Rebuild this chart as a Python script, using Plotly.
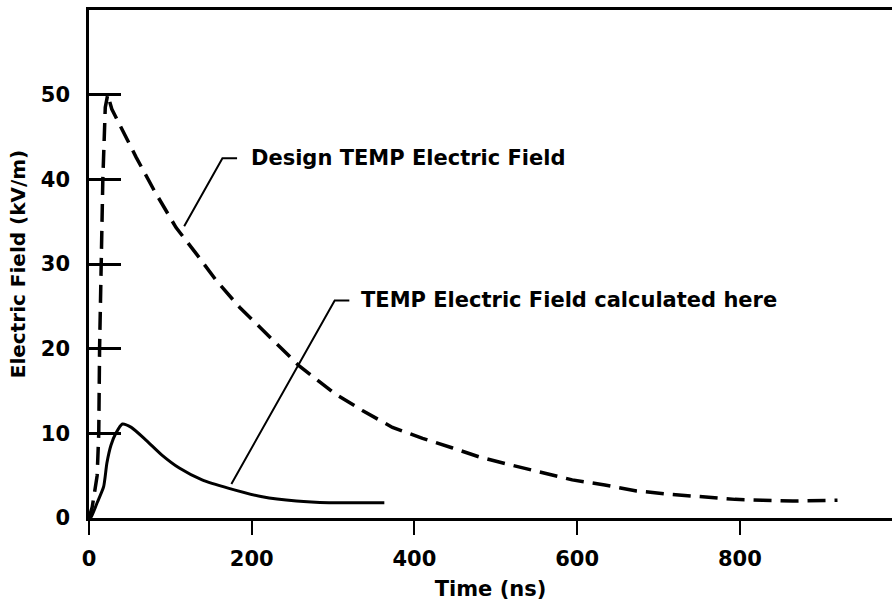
import numpy as np
import plotly.graph_objects as go

# ---- data ----
# Design TEMP electric field (dashed curve)
design_t = [0, 4, 10, 12, 13, 15, 17, 20, 23, 28, 43, 58, 80, 107, 132, 156, 185,
            234, 258, 302, 336, 373, 410, 446, 480, 519, 558, 594, 634, 673, 714,
            753, 794, 828, 865, 920]
design_e = [0, 1.3, 5, 10, 20, 30, 40, 48.5, 50, 48.3, 45.4, 42.6, 38.7, 34.3, 31.2,
            28.1, 24.9, 20.2, 18.0, 14.7, 12.7, 10.7, 9.4, 8.3, 7.2, 6.25, 5.3, 4.5,
            3.9, 3.2, 2.8, 2.5, 2.2, 2.1, 2.0, 2.1]

# TEMP electric field calculated here (solid curve)
calc_t = [0, 2.5, 10, 18, 22, 27, 33, 41, 52, 70, 90, 111, 139, 172, 213, 255,
          295, 336, 363]
calc_e = [0, 0.1, 1.8, 3.7, 6.5, 8.6, 10.0, 11.1, 10.7, 9.2, 7.4, 5.9, 4.5, 3.5,
          2.5, 2.0, 1.8, 1.8, 1.8]

x_ticks = [0, 200, 400, 600, 800]
y_ticks = [0, 10, 20, 30, 40, 50]

# callout labels
label_text = ["Design TEMP Electric Field", "TEMP Electric Field calculated here"]
label_t = [197, 332]
label_e = [42.5, 25.7]
leader_tip_t = [117, 175]
leader_tip_gap = [1.4, 0.6]
leader_elbow_t = [164, 302]
leader_end_t = [182, 320]

FONT = "DejaVu Sans"

fig = go.Figure()
fig.add_trace(go.Scatter(x=design_t, y=design_e, mode="lines",
                         line=dict(color="black", width=3.5, dash="18px,9px"),
                         name="Design TEMP Electric Field", showlegend=False))
fig.add_trace(go.Scatter(x=calc_t, y=calc_e, mode="lines",
                         line=dict(color="black", width=3, shape="spline", smoothing=0.6),
                         name="TEMP Electric Field calculated here", showlegend=False))

curves = [(design_t, design_e), (calc_t, calc_e)]
for i, txt in enumerate(label_text):
    ct, ce = curves[i]
    tip_e = float(np.interp(leader_tip_t[i], ct, ce)) + leader_tip_gap[i]
    path = (f"M {leader_tip_t[i]},{tip_e} L {leader_elbow_t[i]},{label_e[i]} "
            f"L {leader_end_t[i]},{label_e[i]}")
    fig.add_shape(type="path", path=path, xref="x", yref="y",
                  line=dict(color="black", width=2))
    fig.add_annotation(x=label_t[i], y=label_e[i], xref="x", yref="y",
                       text=txt, showarrow=False, xanchor="left", yanchor="middle",
                       font=dict(family=FONT, size=21, color="black", weight="bold"))

fig.update_layout(
    width=892, height=602,
    margin=dict(l=89, r=0, t=10, b=84),
    paper_bgcolor="white", plot_bgcolor="white",
    font=dict(family=FONT, size=21, color="black", weight="bold"),
    showlegend=False,
)
fig.update_xaxes(
    range=[0, 987], tickvals=x_ticks, ticktext=[str(v) for v in x_ticks],
    showgrid=False, zeroline=False,
    showline=True, linecolor="black", linewidth=3, mirror=True,
    ticks="outside", ticklen=14, tickwidth=2, tickcolor="black",
    ticklabelstandoff=6,
    tickfont=dict(family=FONT, size=21, color="black", weight="bold"),
    title=dict(text="Time (ns)", standoff=12,
               font=dict(family=FONT, size=21, color="black", weight="bold")),
)
fig.update_yaxes(
    range=[0, 60], tickvals=y_ticks, ticktext=[str(v) for v in y_ticks],
    showgrid=False, zeroline=False,
    showline=True, linecolor="black", linewidth=2.5,
    ticks="inside", ticklen=32, tickwidth=2.5, tickcolor="black",
    ticklabelstandoff=12,
    tickfont=dict(family=FONT, size=21, color="black", weight="bold"),
    title=dict(text="Electric Field (kV/m)", standoff=10,
               font=dict(family=FONT, size=20, color="black", weight="bold")),
)

fig.write_html("out.html",
               config={"displayModeBar": False},
               post_script="document.body.style.margin='0';document.body.style.overflow='hidden';")
